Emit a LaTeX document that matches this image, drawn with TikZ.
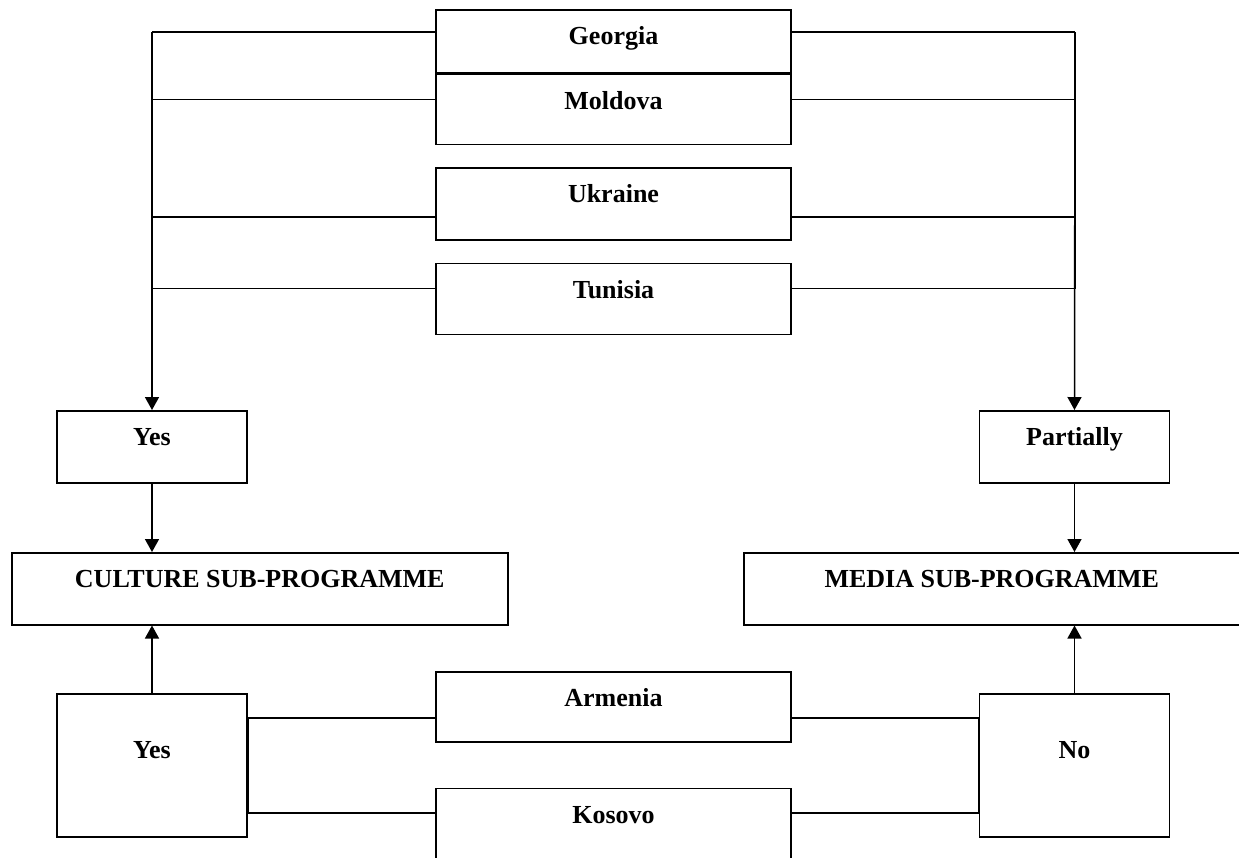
\documentclass[tikz,border=0pt]{standalone}
\usepackage{fontspec}
\setmainfont{Liberation Serif}
\usepackage{tikz}
\usetikzlibrary{arrows.meta, positioning}

\begin{document}
\begin{tikzpicture}[x=0.5pt, y=-0.5pt, node distance=11pt,
    country/.style={rectangle, draw, line width=0.75pt, inner sep=0pt, minimum width=177.5pt, text height=17.5pt, text depth=18pt, font=\fontsize{13}{15}\selectfont\bfseries},
    answer/.style={rectangle, draw, line width=0.75pt, inner sep=0pt, minimum width=95pt, text height=17.5pt, text depth=18.5pt, font=\fontsize{13}{15}\selectfont\bfseries},
    tallanswer/.style={answer, text height=32.5pt, text depth=39pt},
    programme/.style={rectangle, draw, line width=0.75pt, inner sep=0pt, minimum width=248pt, text height=17.5pt, text depth=18.5pt, font=\fontsize{13}{15}\selectfont\bfseries},
    link/.style={line width=0.75pt},
    arrow/.style={line width=0.75pt, -{Triangle[width=7pt, length=6.5pt]}}]

    \useasboundingbox (0,0) rectangle (1239,858);

    % Countries (top)
    \node[country, anchor=north, text depth=14pt] (georgia) at (613.5,9) {Georgia};
    \node[country, below=0pt of georgia, text depth=17.5pt] (moldova) {Moldova};
    \node[country, below=of moldova, text depth=18.5pt] (ukraine) {Ukraine};
    \node[country, below=of ukraine] (tunisia) {Tunisia};

    % Answers
    \node[answer, anchor=north] (yes_top) at (152,410) {Yes};
    \node[answer, anchor=north] (partially) at (1074.5,410) {Partially};

    % Sub-programmes
    \node[programme, anchor=north west] (culture) at (11,552) {CULTURE SUB-PROGRAMME};
    \node[programme, anchor=north west] (media) at (743,552) {MEDIA SUB-PROGRAMME};

    % Answers (bottom)
    \node[tallanswer, anchor=north] (yes_bottom) at (152,693) {Yes};
    \node[tallanswer, anchor=north] (no) at (1074.5,693) {No};

    % Countries (bottom)
    \node[country, anchor=north, text depth=17.5pt] (armenia) at (613.5,671) {Armenia};
    \node[country, below=22.5pt of armenia] (kosovo) {Kosovo};

    % Trunks
    \coordinate (trunk_left) at (152,32);
    \coordinate (trunk_right) at (1075,32);

    % Connections
    \draw[link] (georgia.west |- trunk_left) -- (trunk_left);
    \draw[link] ([yshift=5pt]moldova.west) -| (trunk_left);
    \draw[link] ([yshift=-6.5pt]ukraine.west) -| (trunk_left);
    \draw[link] ([yshift=5.25pt]tunisia.west) -| (trunk_left);
    \draw[link] (georgia.east |- trunk_right) -- (trunk_right);
    \draw[link] ([yshift=5pt]moldova.east) -| (trunk_right);
    \draw[link] ([yshift=-6.5pt]ukraine.east) -| (trunk_right);
    \draw[link] ([yshift=5.25pt]tunisia.east) -| (trunk_right);
    \draw[arrow] (trunk_left) -- (yes_top.north);
    \draw[arrow] (trunk_right) -- (partially.north);
    \draw[arrow] (yes_top.south) -- (yes_top.south |- culture.north);
    \draw[arrow] (partially.south) -- (partially.south |- media.north);
    \draw[arrow] (yes_bottom.north) -- (yes_bottom.north |- culture.south);
    \draw[arrow] (no.north) -- (no.north |- media.south);
    \draw[link] ([yshift=-5.5pt]armenia.west) -| (yes_bottom.east);
    \draw[link] ([yshift=-5.5pt]armenia.east) -| (no.west);
    \draw[link] ([yshift=5.5pt]kosovo.west) -| (yes_bottom.east);
    \draw[link] ([yshift=5.5pt]kosovo.east) -| (no.west);
\end{tikzpicture}
\end{document}
